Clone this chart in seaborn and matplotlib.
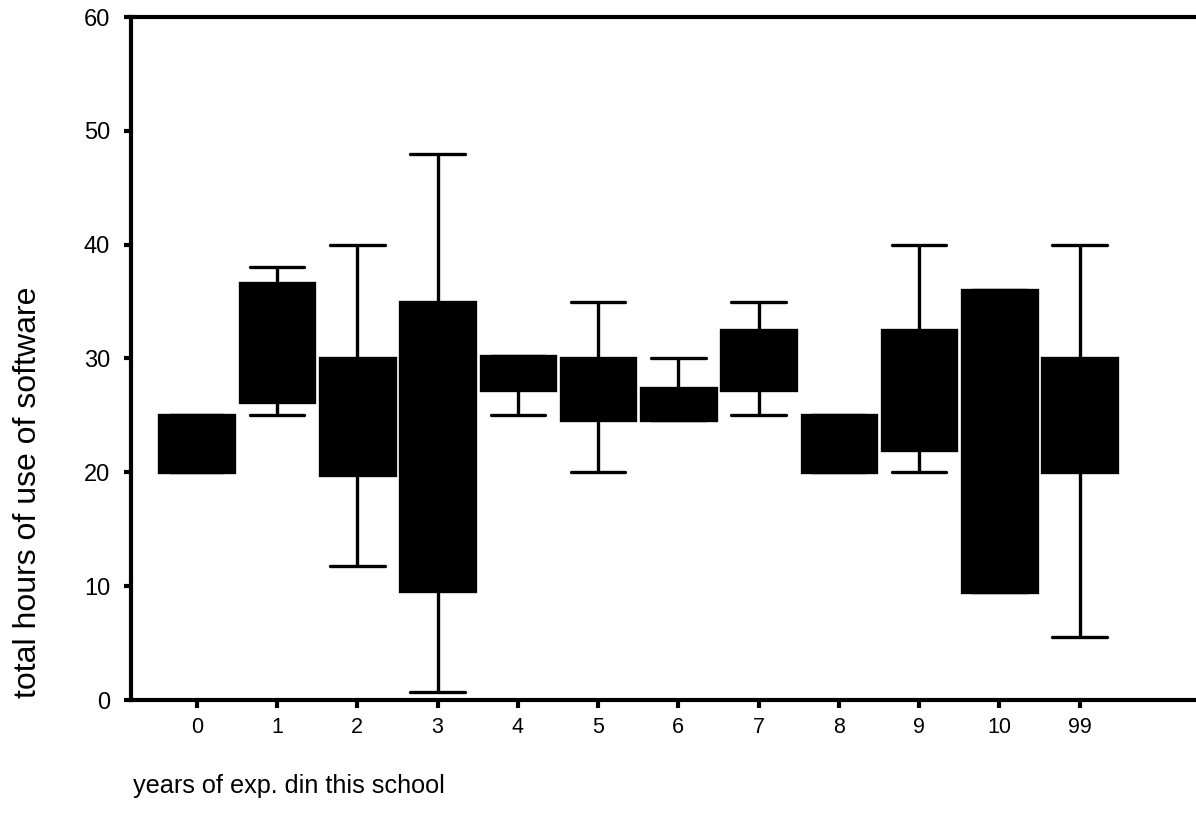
import matplotlib
matplotlib.use("Agg")
import matplotlib.pyplot as plt
import seaborn as sns
import pandas as pd

# ---- data (five-number summaries per group) ----
categories   = ["0", "1", "2", "3", "4", "5", "6", "7", "8", "9", "10", "99"]
whisker_low  = [20.0, 25.0, 11.8, 0.7, 25.0, 20.0, 24.6, 25.0, 20.0, 20.0, 9.5, 5.5]
q1           = [20.0, 26.2, 19.8, 9.6, 27.2, 24.6, 24.6, 27.2, 20.0, 22.0, 9.5, 20.0]
median       = [22.0, 30.0, 25.0, 20.0, 28.0, 27.0, 25.0, 30.0, 22.0, 27.0, 20.0, 25.0]
q3           = [25.0, 36.6, 30.0, 35.0, 30.2, 30.0, 27.4, 32.5, 25.0, 32.5, 36.0, 30.0]
whisker_high = [25.0, 38.0, 40.0, 48.0, 30.2, 35.0, 30.0, 35.0, 25.0, 40.0, 36.0, 40.0]
y_ticks = [0, 10, 20, 30, 40, 50, 60]

rows = []
for i, c in enumerate(categories):
    for v in (whisker_low[i], q1[i], median[i], q3[i], whisker_high[i]):
        rows.append({"years": c, "hours": v})
df = pd.DataFrame(rows)

sns.set_theme(style="white")
plt.rcParams["font.family"] = ["Liberation Sans", "DejaVu Sans"]
plt.rcParams["text.color"] = "black"
plt.rcParams["axes.labelcolor"] = "black"
plt.rcParams["xtick.color"] = "black"
plt.rcParams["ytick.color"] = "black"

fig = plt.figure(figsize=(11.96, 8.21), dpi=100)
ax = fig.add_axes([131 / 1196, 1 - 700 / 821, 1 - 131 / 1196, (700 - 17) / 821])

sns.boxplot(data=df, x="years", y="hours", order=categories, ax=ax,
            color="black", linecolor="black", width=0.93, whis=(0, 100),
            linewidth=2.4, showfliers=False, capwidths=0.68, saturation=1)

ax.set_ylim(0, 60)
ax.set_xlim(-0.82, 12.45)
ax.set_yticks(y_ticks)
ax.set_yticklabels([str(t) for t in y_ticks], fontsize=17)
ax.tick_params(axis="x", labelsize=15.5, length=6, width=3, colors="black",
               direction="out", pad=6, bottom=True)
ax.tick_params(axis="y", length=5, width=3, colors="black", direction="out",
               pad=10, left=True)

for side in ("left", "bottom", "top"):
    ax.spines[side].set_visible(True)
    ax.spines[side].set_color("black")
    ax.spines[side].set_linewidth(3)
ax.spines["right"].set_visible(False)

ax.set_xlabel("")
ax.set_ylabel("")
fig.text(28 / 1196, 1 - 492 / 821, "total hours of use of software",
         rotation=90, ha="center", va="center", fontsize=23, color="black")
fig.text(133 / 1196, 1 - 786 / 821, "years of exp. din this school",
         ha="left", va="center", fontsize=18.2, color="black")

fig.savefig("out.png", dpi=100)
